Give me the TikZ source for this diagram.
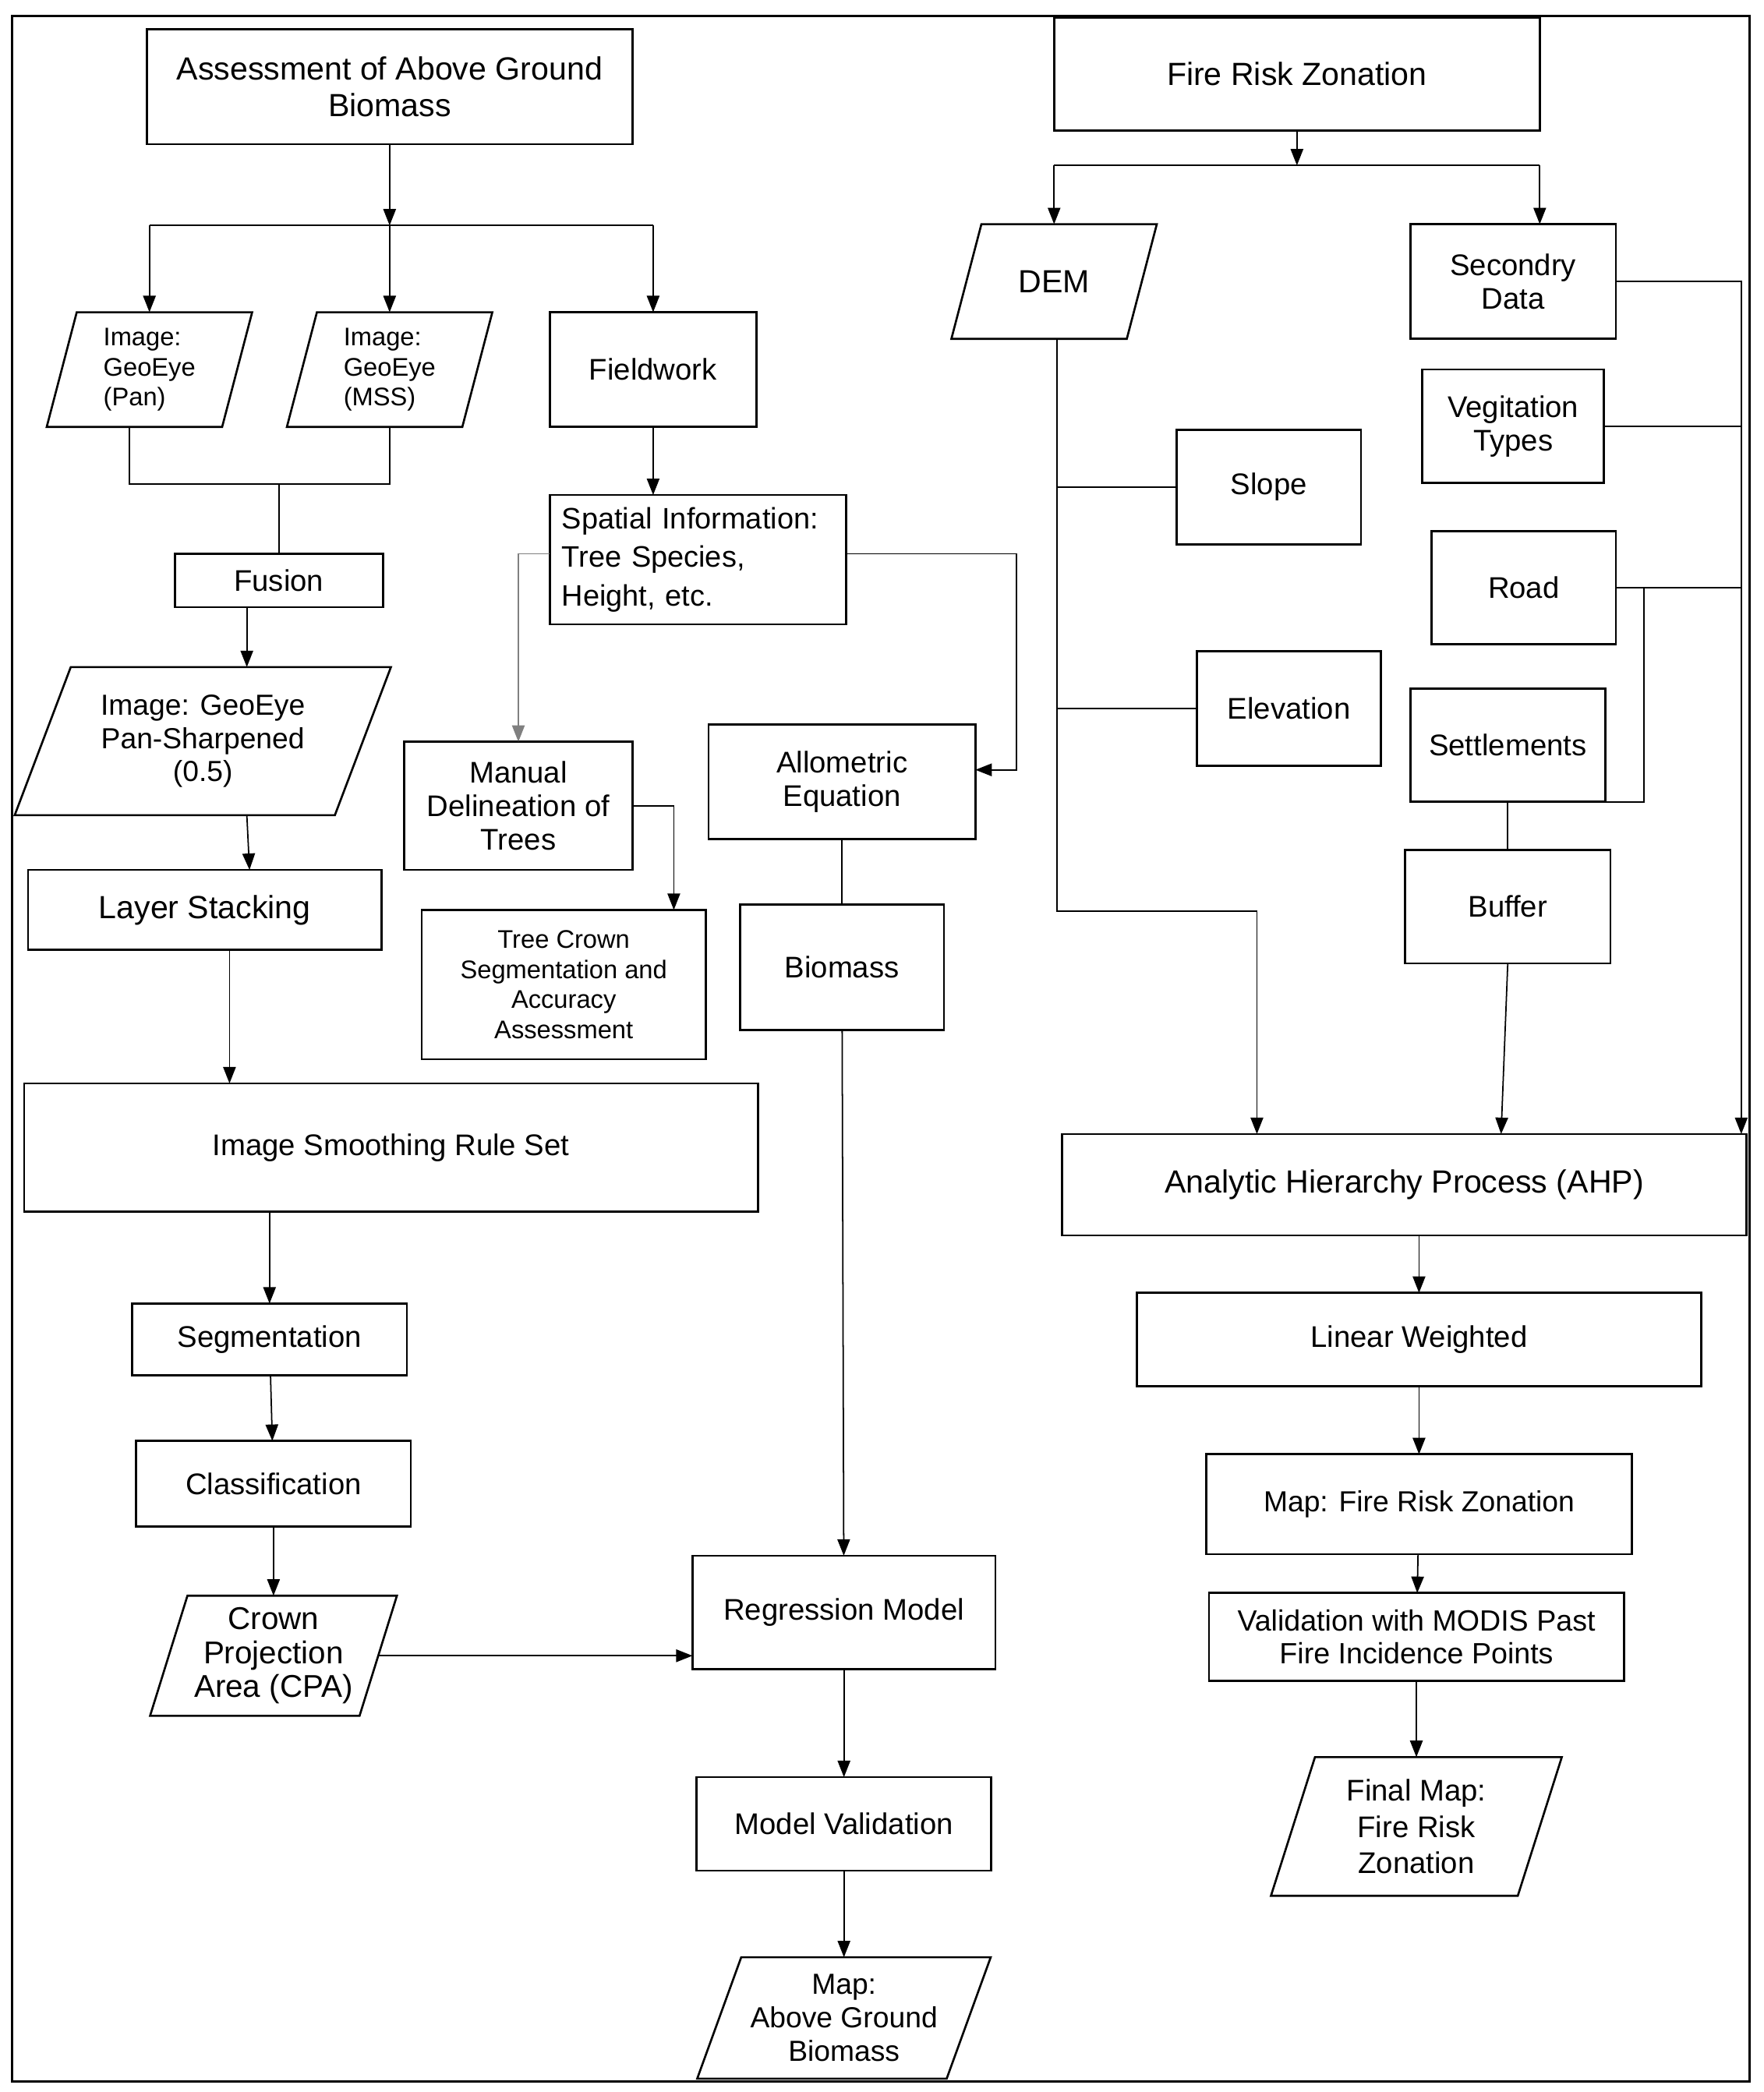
\documentclass[tikz,border=0pt]{standalone}
\usepackage{fontspec}
\setmainfont{Liberation Sans}
\usepackage{tikz}
\usetikzlibrary{positioning, arrows.meta, calc}

\newcommand{\fsbig}{\fontsize{11.7}{13.2}\selectfont}
\newcommand{\fsnorm}{\fontsize{10.9}{12.3}\selectfont}
\newcommand{\fssmall}{\fontsize{9.3}{11}\selectfont}
% parallelogram outline round a named node, top edge shifted right by #2
\newcommand{\slantbox}[2]{\draw [line width=0.75pt] ($(#1.north west)+(#2,0)$) -- (#1.north east) -- ($(#1.south east)+(-#2,0)$) -- (#1.south west) -- cycle;}

\begin{document}
\begin{tikzpicture}[x=0.017118cm, y=-0.017118cm]
    \tikzstyle{block} = [rectangle, draw, line width=0.75pt, align=center, inner sep=2pt, outer sep=0pt, font=\fsnorm]
    \tikzstyle{io} = [rectangle, align=center, inner sep=1pt, outer sep=0pt, font=\fsnorm]
    \tikzstyle{arrow} = [line width=0.5pt, -{Triangle[length=6pt, width=4.6pt]}]
    \tikzstyle{link} = [line width=0.5pt]
    \tikzstyle{grayarrow} = [line width=0.5pt, black!50, -{Triangle[length=6pt, width=4.6pt]}]

    \useasboundingbox (0,0) rectangle (1322,1568);
    \draw [line width=0.8pt] (9,12) rectangle (1311,1560);

    % above ground biomass
    \node [block, font=\fsbig, minimum width=6.231cm, minimum height=1.472cm] (assess) at (292,65) {Assessment of Above Ground\\Biomass};
    \node [io, font=\fssmall, align=left, minimum width=2.636cm, minimum height=1.472cm] (pan) at (112,277) {Image:\\GeoEye\\(Pan)};
    \node [io, font=\fssmall, align=left, minimum width=2.636cm, minimum height=1.472cm] (mss) at (292,277) {Image:\\GeoEye\\(MSS)};
    \node [block, minimum width=2.653cm, minimum height=1.472cm] (field) at (489.5,277) {Fieldwork};
    \node [block, minimum width=2.670cm, minimum height=0.685cm] (fusion) at (209,435) {Fusion};
    \node [io, font=\fontsize{10.6}{12.2}\selectfont, minimum width=4.827cm, minimum height=1.900cm] (pansharp) at (152,555.5) {Image: GeoEye\\Pan-Sharpened\\(0.5)};
    \node [block, font=\fsbig, minimum width=4.536cm, minimum height=1.027cm] (layer) at (153.5,682) {Layer Stacking};
    \node [block, minimum width=9.415cm, minimum height=1.643cm] (smooth) at (293,860) {Image Smoothing Rule Set};
    \node [block, minimum width=3.526cm, minimum height=0.924cm] (segm) at (202,1004) {Segmentation};
    \node [block, minimum width=3.526cm, minimum height=1.096cm, below=0.839cm of segm, xshift=0.051cm] (classif) {Classification};
    \node [io, font=\fontsize{11.5}{12.4}\selectfont, minimum width=3.167cm, minimum height=1.541cm, below=0.890cm of classif] (cpa) {Crown\\Projection\\Area (CPA)};

    \node [block, align=left, text width=3.49cm, minimum width=3.800cm, minimum height=1.660cm, font=\fontsize{10.8}{14}\selectfont] (spatial) at (523,419.5) {Spatial Information:\\Tree Species,\\Height, etc.};
    \node [block, minimum width=2.927cm, minimum height=1.643cm] (manual) at (388.5,604) {Manual\\Delineation of\\Trees};
    \node [block, font=\fssmall, minimum width=3.646cm, minimum height=1.917cm] (crown) at (422.5,738) {Tree Crown\\Segmentation and\\Accuracy\\Assessment};
    \node [block, minimum width=3.424cm, minimum height=1.472cm] (allom) at (631,586) {Allometric\\Equation};
    \node [block, minimum width=2.619cm, minimum height=1.609cm, below=0.839cm of allom] (biomass) {Biomass};
    \node [block, minimum width=3.886cm, minimum height=1.455cm] (regr) at (632.5,1208.5) {Regression Model};
    \node [block, minimum width=3.783cm, minimum height=1.198cm, below=1.387cm of regr] (modval) {Model Validation};
    \node [io, font=\fontsize{10.6}{12.3}\selectfont, minimum width=3.766cm, minimum height=1.558cm, below=1.113cm of modval] (mapagb) {Map:\\Above Ground\\Biomass};

    % fire risk zonation
    \node [block, font=\fsbig, minimum width=6.231cm, minimum height=1.455cm] (fire) at (972,55.5) {Fire Risk Zonation};
    \node [io, font=\fsbig, minimum width=2.636cm, minimum height=1.472cm] (dem) at (790,211) {DEM};
    \node [block, minimum width=2.636cm, minimum height=1.472cm] (second) at (1134,211) {Secondry\\Data};
    \node [block, minimum width=2.328cm, minimum height=1.455cm] (veg) at (1134,319.5) {Vegitation\\Types};
    \node [block, minimum width=2.362cm, minimum height=1.472cm] (slope) at (951,365) {Slope};
    \node [block, minimum width=2.362cm, minimum height=1.455cm] (road) at (1142,440.5) {Road};
    \node [block, minimum width=2.362cm, minimum height=1.472cm] (elev) at (966,531) {Elevation};
    \node [block, minimum width=2.499cm, minimum height=1.455cm] (settle) at (1130,558.5) {Settlements};
    \node [block, minimum width=2.636cm, minimum height=1.455cm, below=0.616cm of settle] (buffer) {Buffer};
    \node [block, font=\fsbig, minimum width=8.782cm, minimum height=1.301cm] (ahp) at (1052.5,888) {Analytic Hierarchy Process (AHP)};
    \node [block, minimum width=7.241cm, minimum height=1.198cm] (linear) at (1063.5,1004) {Linear Weighted};
    \node [block, font=\fontsize{10.6}{12}\selectfont, minimum width=5.461cm, minimum height=1.284cm, below=0.873cm of linear] (mapfire) {Map: Fire Risk Zonation};
    \node [block, font=\fontsize{10.7}{11.8}\selectfont, minimum width=5.324cm, minimum height=1.130cm, below=0.496cm of mapfire, xshift=-0.034cm] (valid) {Validation with MODIS Past\\Fire Incidence Points};
    \node [io, font=\fontsize{10.9}{13.2}\selectfont, minimum width=3.732cm, minimum height=1.780cm, below=0.976cm of valid] (final) {Final Map:\\Fire Risk\\Zonation};

    % parallelogram outlines
    \slantbox{pan}{22.5}
    \slantbox{mss}{22.5}
    \slantbox{pansharp}{42}
    \slantbox{cpa}{28}
    \slantbox{mapagb}{33}
    \slantbox{dem}{22.5}
    \slantbox{final}{33}

    % connectors, left
    \coordinate (lsplit) at (292,169);
    \draw [arrow] (assess) -- (lsplit);
    \draw [link] (pan.north |- lsplit) -- (field.north |- lsplit);
    \draw [arrow] (pan.north |- lsplit) -- (pan.north);
    \draw [arrow] (lsplit) -- (mss.north);
    \draw [arrow] (field.north |- lsplit) -- (field.north);
    \draw [link] ($(pan.south)+(-15,0)$) |- ($(mss.south)+(0,43)$) -- (mss.south);
    \draw [link] (fusion.north) -- ++(0,-52);
    \draw [arrow] ($(fusion.south)+(-24,0)$) coordinate (f1) -- (f1 |- pansharp.north);
    \draw [arrow] (f1 |- pansharp.south) -- ($(layer.north)+(33.5,0)$);
    \draw [arrow] ($(layer.south)+(18.5,0)$) coordinate (l1) -- (l1 |- smooth.north);
    \draw [arrow] (segm.north |- smooth.south) -- (segm.north);
    \draw [arrow] (segm) -- (classif);
    \draw [arrow] (classif) -- (cpa);
    \draw [arrow] ($(cpa.east)+(-14,0)$) -- (cpa.east -| regr.west);

    % connectors, middle
    \draw [arrow] (field.south) -- (field.south |- spatial.north);
    \draw [grayarrow] ($(spatial.west)+(0,-4.5)$) -| (manual.north);
    \draw [arrow] ($(spatial.east)+(0,-4.5)$) -- ++(128,0) |- ($(allom.east)+(0,-9)$);
    \draw [arrow] (manual.east) -| ($(crown.north)+(82.5,0)$);
    \draw [link] (allom) -- (biomass);
    \draw [arrow] (biomass) -- (regr);
    \draw [arrow] (regr) -- (modval);
    \draw [arrow] (modval) -- (mapagb);

    % connectors, right
    \coordinate (rsplit) at (972,124);
    \draw [arrow] (fire) -- (rsplit);
    \draw [link] (dem.north |- rsplit) -- (fire.south east |- rsplit);
    \draw [arrow] (dem.north |- rsplit) -- (dem.north);
    \draw [arrow] (fire.south east |- rsplit) -- (fire.south east |- second.north);
    \coordinate (d1) at ($(dem.south)+(2,0)$);
    \coordinate (demturn) at (942,683);
    \draw [arrow] (d1) |- (demturn) -- (demturn |- ahp.north);
    \draw [link] (slope.west) -- (slope.west -| d1);
    \draw [link] (elev.west) -- (elev.west -| d1);
    \coordinate (bus) at (1305,211);
    \draw [arrow] (second.east) -- (bus) -- (bus |- ahp.north);
    \draw [link] (veg.east) -- (veg.east -| bus);
    \draw [link] (road.east) -- (road.east -| bus);
    \draw [link] (settle.south east) -- ++(29,0) |- (road.east);
    \draw [link] (settle) -- (buffer);
    \draw [arrow] (buffer.south) -- ($(buffer.south |- ahp.north)+(-5,0)$);
    \draw [arrow] (linear.north |- ahp.south) -- (linear.north);
    \draw [arrow] (linear) -- (mapfire);
    \draw [arrow] (mapfire) -- (valid);
    \draw [arrow] (valid) -- (final);
\end{tikzpicture}
\end{document}
